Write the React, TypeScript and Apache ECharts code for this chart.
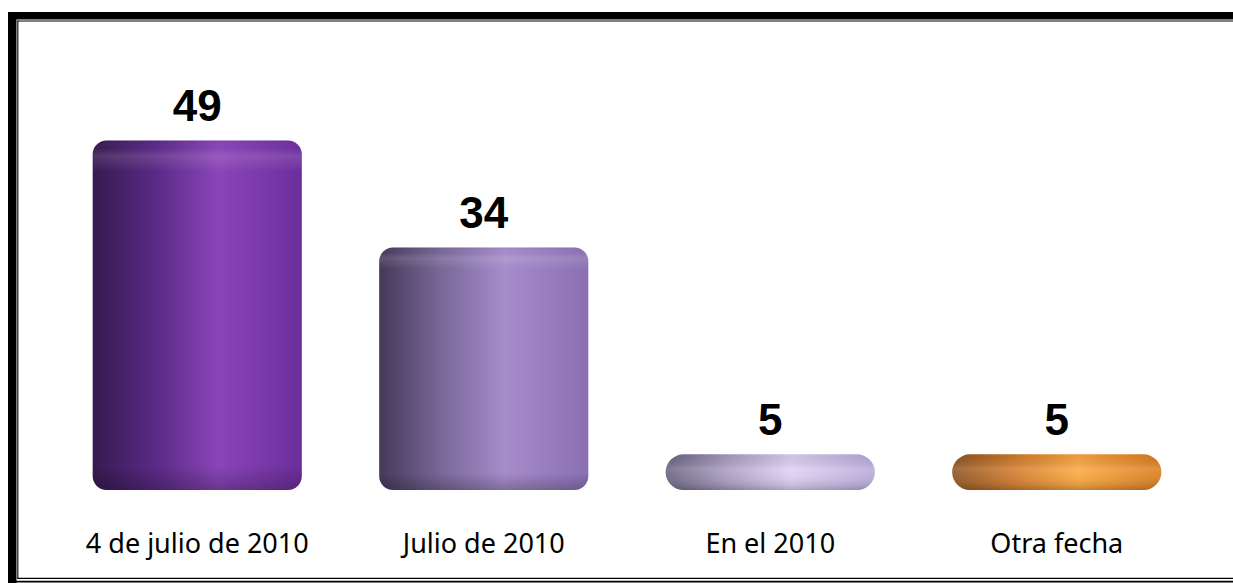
import React, { useEffect, useRef } from "react";
import * as echarts from "echarts";

const categories = ["4 de julio de 2010", "Julio de 2010", "En el 2010", "Otra fecha"];
const values = [49, 34, 5, 5];
const barColors = [
  ["#361a50", "#5a2a85", "#8a45b8", "#6c2e9c"],
  ["#45395a", "#7a6898", "#a68ccb", "#8a70b2"],
  ["#6a6280", "#a89cc0", "#dccff3", "#b7a7d6"],
  ["#8c5220", "#d07a2a", "#f8a63e", "#d97a1c"],
];

function grad(c: string[]) {
  return new echarts.graphic.LinearGradient(0, 0, 1, 0, [
    { offset: 0, color: c[0] },
    { offset: 0.3, color: c[1] },
    { offset: 0.6, color: c[2] },
    { offset: 1, color: c[3] },
  ]);
}

export default function App() {
  const ref = useRef<HTMLDivElement>(null);
  useEffect(() => {
    if (!ref.current) return;
    document.body.style.margin = "0";
    document.body.style.overflow = "hidden";
    const chart = echarts.init(ref.current, undefined, { renderer: "svg" });
    const big = (v: number) => v > 10;
    chart.setOption({
      animation: false,
      backgroundColor: "#ffffff",
      grid: { left: 54, right: 50, top: 62, bottom: 93 },
      xAxis: {
        type: "category",
        data: categories,
        axisLine: { show: false },
        axisTick: { show: false },
        axisLabel: {
          interval: 0,
          margin: 39,
          fontFamily: "Noto Sans",
          fontSize: 27,
          color: "#000000",
        },
      },
      yAxis: {
        type: "value",
        min: 0,
        max: 60,
        show: false,
        splitLine: { show: false },
      },
      series: [
        {
          type: "bar",
          barWidth: "73%",
          data: values.map((v, i) => ({
            value: v,
            itemStyle: {
              color: grad(barColors[i]),
              borderRadius: big(v) ? 14 : 18,
            },
          })),
          label: {
            show: true,
            position: "top",
            distance: 13,
            fontFamily: "Liberation Sans",
            fontWeight: "bold",
            fontSize: 44,
            color: "#000000",
          },
        },
        {
          type: "bar",
          barWidth: "73%",
          barGap: "-100%",
          silent: true,
          data: values.map((v) => ({
            value: v,
            itemStyle: {
              borderRadius: big(v) ? 14 : 18,
              color: big(v)
                ? new echarts.graphic.LinearGradient(0, 0, 0, 1, [
                    { offset: 0, color: "rgba(0,0,0,0.06)" },
                    { offset: 0.02, color: "rgba(255,255,255,0.0)" },
                    { offset: 0.045, color: "rgba(255,255,255,0.12)" },
                    { offset: 0.09, color: "rgba(255,255,255,0.0)" },
                    { offset: 0.93, color: "rgba(0,0,0,0.0)" },
                    { offset: 1, color: "rgba(0,0,0,0.22)" },
                  ])
                : new echarts.graphic.LinearGradient(0, 0, 0, 1, [
                    { offset: 0, color: "rgba(0,0,0,0.05)" },
                    { offset: 0.4, color: "rgba(255,255,255,0.15)" },
                    { offset: 0.6, color: "rgba(255,255,255,0.08)" },
                    { offset: 1, color: "rgba(0,0,0,0.2)" },
                  ]),
            },
          })),
          label: { show: false },
        },
      ],
      graphic: [
        { type: "rect", z: 101, shape: { x: 8, y: 12, width: 1242, height: 7.5 }, style: { fill: "#000" } },
        { type: "rect", z: 101, shape: { x: 8, y: 12, width: 8.5, height: 571 }, style: { fill: "#000" } },
        { type: "rect", z: 101, shape: { x: 17.3, y: 20.4, width: 1233, height: 1.1 }, style: { fill: "#000" } },
        { type: "rect", z: 101, shape: { x: 17.3, y: 20.4, width: 1.1, height: 558 }, style: { fill: "#000" } },
        { type: "rect", z: 101, shape: { x: 17.3, y: 577.8, width: 1233, height: 1.3 }, style: { fill: "#000" } },
        { type: "rect", z: 101, shape: { x: 8, y: 580.8, width: 1242, height: 1.6 }, style: { fill: "#000" } },
      ],
    });
    return () => chart.dispose();
  }, []);
  return (
    <div
      ref={ref}
      style={{ position: "fixed", left: 0, top: 0, width: 1250, height: 583 }}
    />
  );
}
